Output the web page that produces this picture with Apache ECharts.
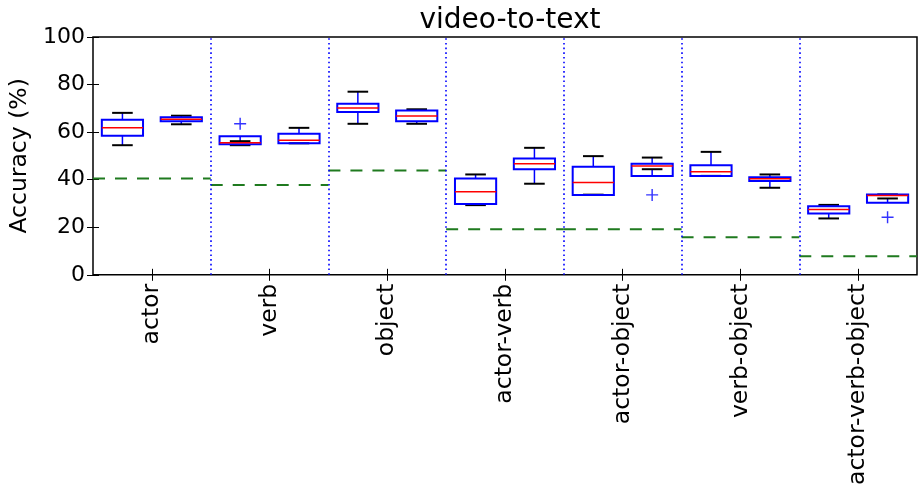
<!DOCTYPE html>
<html>
<head>
<meta charset="utf-8">
<script src="https://cdn.jsdelivr.net/npm/echarts@6/dist/echarts.min.js"></script>
<style>html,body{margin:0;padding:0;background:#fff;}#c{width:918px;height:488px;}</style>
</head>
<body>
<div id="c"></div>
<script>
// ---- data ----
var categories = ['actor', 'verb', 'object', 'actor-verb', 'actor-object', 'verb-object', 'actor-verb-object'];
// [whiskerLow, Q1, median, Q3, whiskerHigh]
var boxFirst = [
  [54.5, 58.5, 61.8, 65.2, 68.1],
  [54.5, 54.9, 55.5, 58.3, 56.2],
  [63.5, 68.5, 70.1, 71.9, 77.0],
  [29.3, 29.8, 34.9, 40.5, 42.2],
  [33.7, 33.6, 38.8, 45.4, 49.9],
  [41.6, 41.6, 43.3, 46.1, 51.7],
  [23.7, 25.8, 27.5, 28.8, 29.4]
];
var boxSecond = [
  [63.3, 64.6, 65.4, 66.3, 66.9],
  [55.3, 55.3, 56.6, 59.3, 61.8],
  [63.5, 64.6, 66.8, 69.1, 69.6],
  [38.3, 44.4, 46.7, 48.9, 53.4],
  [44.4, 41.5, 45.8, 46.7, 49.3],
  [36.6, 39.4, 40.4, 41.0, 42.2],
  [32.1, 30.3, 33.3, 33.8, 33.8]
];
// outliers: [groupIndex, which box (0 first, 1 second), value]
var outliers = [[1, 0, 63.5], [4, 1, 33.6], [6, 1, 24.2]];
var chance = [40.5, 37.8, 43.9, 19.2, 19.2, 15.8, 7.8];
var yTicks = [0, 20, 40, 60, 80, 100];

// ---- build ----
var boxData = [];
for (var g = 0; g < categories.length; g++) {
  boxData.push([g + 0.25].concat(boxFirst[g]));
  boxData.push([g + 0.75].concat(boxSecond[g]));
}
var outlierData = outliers.map(function (o) { return [o[0] + (o[1] === 0 ? 0.25 : 0.75), o[2]]; });
var chanceSeries = chance.map(function (c, i) {
  return {
    type: 'line', xAxisIndex: 3, yAxisIndex: 0, symbol: 'none', silent: true, z: 3,
    data: [[i, c], [i + 1, c]],
    lineStyle: { color: '#1f7a1f', width: 2, type: [12, 10] }
  };
});

var FONT = 'DejaVu Sans';
var chart = echarts.init(document.getElementById('c'), null, { renderer: 'canvas' });
var option = {
  animation: false,
  backgroundColor: '#fff',
  title: {
    text: 'video-to-text', left: 505, top: 2, textAlign: 'center',
    textStyle: { fontFamily: FONT, fontSize: 28, fontWeight: 'normal', color: '#000' }
  },
  grid: { left: 93, right: 1, top: 37, bottom: 213, show: true, borderColor: '#000', borderWidth: 1.5, backgroundColor: 'transparent' },
  xAxis: [
    { type: 'category', data: categories, position: 'bottom', boundaryGap: true,
      axisLine: { show: false },
      axisTick: { show: true, inside: true, alignWithLabel: true, length: 6, lineStyle: { color: '#000', width: 1 } },
      axisLabel: { rotate: 90, margin: 9, fontFamily: FONT, fontSize: 23.5, color: '#000' },
      splitLine: { show: false } },
    { type: 'category', data: categories, position: 'top', boundaryGap: true,
      axisLine: { show: false },
      axisTick: { show: true, inside: true, alignWithLabel: true, length: 6, lineStyle: { color: '#000', width: 1 } },
      axisLabel: { show: false }, splitLine: { show: false } },
    { type: 'value', min: 0, max: 7, show: false },
    { type: 'value', min: 0, max: 7, show: false }
  ],
  yAxis: [
    { type: 'value', min: 0, max: 100, interval: 20, position: 'left',
      name: 'Accuracy (%)', nameLocation: 'middle', nameGap: 57,
      nameTextStyle: { fontFamily: FONT, fontSize: 23.5, color: '#000' },
      axisLine: { show: false },
      axisTick: { show: true, inside: true, length: 6, lineStyle: { color: '#000', width: 1 } },
      axisLabel: { margin: 8, fontFamily: FONT, fontSize: 22, color: '#000',
        formatter: function (v) { return yTicks.indexOf(v) >= 0 ? String(v) : ''; } },
      splitLine: { show: false } },
    { type: 'value', min: 0, max: 100, interval: 20, position: 'right',
      axisLine: { show: false },
      axisTick: { show: true, inside: true, length: 6, lineStyle: { color: '#000', width: 1 } },
      axisLabel: { show: false }, splitLine: { show: false } }
  ],
  series: [
    {
      type: 'line', xAxisIndex: 3, yAxisIndex: 0, symbol: 'none', silent: true, data: [],
      markLine: {
        silent: true, symbol: 'none', label: { show: false },
        lineStyle: { color: '#0000ff', width: 1.6, type: [1.6, 3.1] },
        data: [1, 2, 3, 4, 5, 6].map(function (v) { return { xAxis: v }; })
      }
    }
  ].concat(chanceSeries).concat([
    {
      type: 'custom', xAxisIndex: 2, yAxisIndex: 0, silent: true, z: 5,
      data: boxData,
      renderItem: function (params, api) {
        var x = api.value(0);
        var lo = api.coord([x, api.value(1)]);
        var q1 = api.coord([x, api.value(2)]);
        var md = api.coord([x, api.value(3)]);
        var q3 = api.coord([x, api.value(4)]);
        var hi = api.coord([x, api.value(5)]);
        var w = api.size([0.35, 0])[0];
        var cw = w / 2;
        var cx = lo[0];
        return {
          type: 'group',
          children: [
            { type: 'line', shape: { x1: cx, y1: q1[1], x2: cx, y2: lo[1] }, style: { stroke: '#0000ff', lineWidth: 1.5 } },
            { type: 'line', shape: { x1: cx, y1: q3[1], x2: cx, y2: hi[1] }, style: { stroke: '#0000ff', lineWidth: 1.5 } },
            { type: 'line', shape: { x1: cx - cw / 2, y1: lo[1], x2: cx + cw / 2, y2: lo[1] }, style: { stroke: '#000', lineWidth: 2 } },
            { type: 'line', shape: { x1: cx - cw / 2, y1: hi[1], x2: cx + cw / 2, y2: hi[1] }, style: { stroke: '#000', lineWidth: 2 } },
            { type: 'rect', shape: { x: cx - w / 2, y: Math.min(q1[1], q3[1]), width: w, height: Math.abs(q1[1] - q3[1]) },
              style: { fill: 'none', stroke: '#0000ff', lineWidth: 2 } },
            { type: 'line', shape: { x1: cx - w / 2, y1: md[1], x2: cx + w / 2, y2: md[1] }, style: { stroke: '#ff0000', lineWidth: 1.5 } }
          ]
        };
      }
    },
    {
      type: 'scatter', xAxisIndex: 2, yAxisIndex: 0, silent: true, z: 6,
      data: outlierData,
      symbol: 'path://M4.4,0H5.6V4.4H10V5.6H5.6V10H4.4V5.6H0V4.4H4.4Z',
      symbolSize: 12,
      itemStyle: { color: '#0000ff' }
    }
  ])
};
chart.setOption(option);
</script>
</body>
</html>
